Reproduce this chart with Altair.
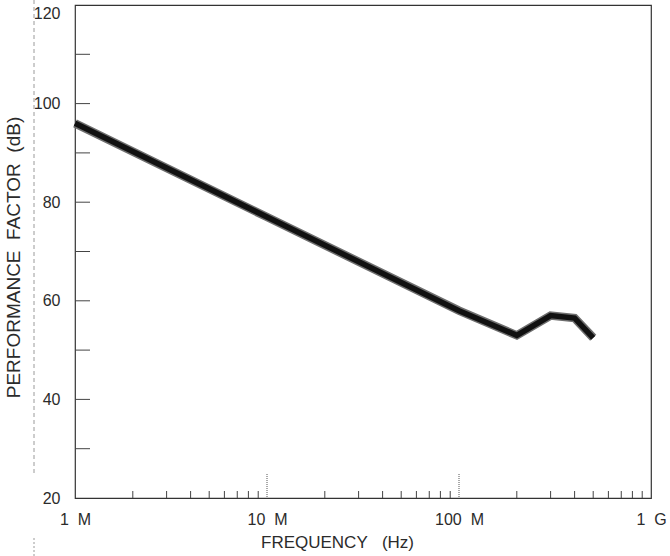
import altair as alt
import pandas as pd

# data
freq_hz = [1e6, 1e7, 1e8, 2e8, 3e8, 4e8, 5e8]
perf_db = [96, 77, 58, 53, 57, 56.5, 52.5]

x_tick_values = [1e6, 1e7, 1e8, 1e9]
x_tick_labels = ["1 \u00a0M", "10 \u00a0M", "100 \u00a0M", "1 \u00a0G"]
y_tick_values = [20, 40, 60, 80, 100, 120]
y_minor = [30, 40, 50, 60, 70, 80, 90, 100, 110]
x_minor = [m * d for d in (1e6, 1e7, 1e8) for m in range(2, 10)]
x_major_inner = [1e7, 1e8]

W, H = 576, 493
FONT = "Liberation Sans"
INK = "#2b2b2b"

df = pd.DataFrame({"freq": freq_hz, "pf": perf_db})

label_expr = " : ".join(
    f"datum.value == {v:g} ? '{t}'" for v, t in zip(x_tick_values, x_tick_labels)
) + " : ''"

xscale = alt.Scale(type="log", domain=[1e6, 1e9], nice=False)
yscale = alt.Scale(domain=[20, 120], nice=False, zero=False)

line_outer = alt.Chart(df).mark_line(color="#6e6e6e", strokeWidth=8.5, strokeJoin="miter").encode(
    x=alt.X("freq:Q", scale=xscale,
            axis=alt.Axis(values=x_tick_values, labelExpr=label_expr, tickSize=0,
                          labelPadding=13, grid=False, domain=False,
                          title="FREQUENCY\u00a0\u00a0 (Hz)",
                          titleX=262, titleY=36,
                          labelFont=FONT, titleFont=FONT, labelFontSize=16,
                          titleFontSize=17, titleFontWeight="normal",
                          labelColor=INK, titleColor=INK, labelFlush=False)),
    y=alt.Y("pf:Q", scale=yscale,
            axis=alt.Axis(values=y_tick_values, tickSize=0, labelPadding=15,
                          grid=False, domain=False,
                          labelBaseline={"condition": {"test": "datum.value == 120", "value": "top"},
                                         "value": "middle"},
                          title="PERFORMANCE\u00a0 FACTOR\u00a0 (dB)",
                          titleX=-52, titleY=252,
                          labelFont=FONT, titleFont=FONT, labelFontSize=16,
                          titleFontSize=19, titleFontWeight="normal",
                          labelColor=INK, titleColor=INK)),
)
line_inner = alt.Chart(df).mark_line(color="#111111", strokeWidth=5.5, strokeJoin="miter").encode(
    x=alt.X("freq:Q", scale=xscale), y=alt.Y("pf:Q", scale=yscale)
)

ymin_df = pd.DataFrame({"v": y_minor})
y_ticks = alt.Chart(ymin_df).mark_rule(color="#444444", strokeWidth=1).encode(
    y=alt.Y("v:Q", scale=yscale), x=alt.value(0), x2=alt.value(15)
)

xmin_df = pd.DataFrame({"f": x_minor})
x_ticks = alt.Chart(xmin_df).mark_rule(color="#444444", strokeWidth=1).encode(
    x=alt.X("f:Q", scale=xscale), y=alt.value(H - 7), y2=alt.value(H)
)
xmaj_df = pd.DataFrame({"f": x_major_inner})
x_major = alt.Chart(xmaj_df).mark_rule(color="#555555", strokeWidth=1, strokeDash=[1, 1]).encode(
    x=alt.X("f:Q", scale=xscale), y=alt.value(H - 24), y2=alt.value(H)
)

edge_df = pd.DataFrame({"k": [0]})
edge1 = alt.Chart(edge_df).mark_rule(
    color="#9a9a9a", strokeWidth=1, strokeDash=[4, 3]
).encode(x=alt.value(-41), y=alt.value(-5), y2=alt.value(468))
edge2 = alt.Chart(edge_df).mark_rule(
    color="#9a9a9a", strokeWidth=1, strokeDash=[2, 2]
).encode(x=alt.value(-41), y=alt.value(533), y2=alt.value(551))

chart = alt.layer(edge1, edge2, y_ticks, x_ticks, x_major, line_outer, line_inner).properties(
    width=W, height=H,
    autosize=alt.AutoSizeParams(type="none"),
    padding={"left": 75, "top": 5, "right": 19, "bottom": 58},
    background="white",
).configure_view(stroke="#333333", strokeWidth=1.2)

chart.save("out.html", embed_options={"renderer": "svg", "actions": False})
